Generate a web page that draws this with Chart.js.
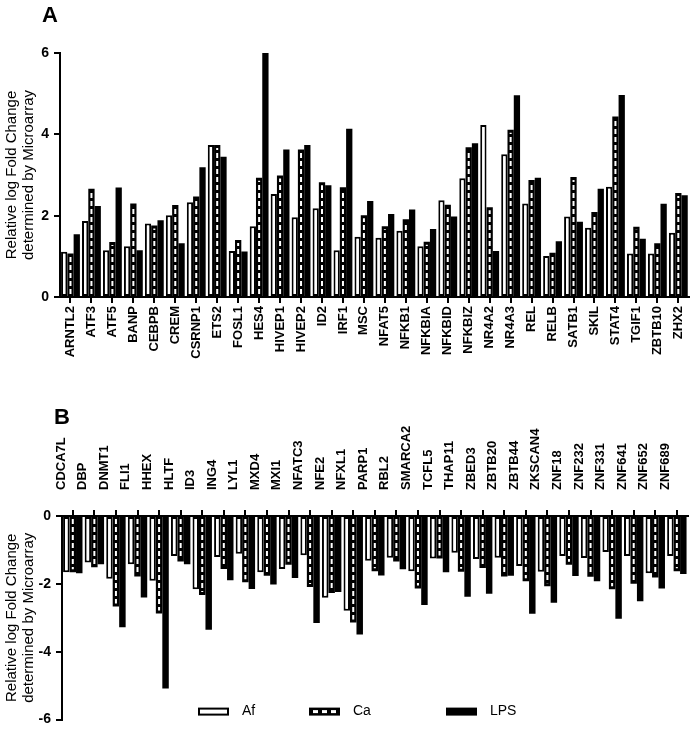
<!DOCTYPE html>
<html>
<head>
<meta charset="utf-8">
<script src="https://cdn.jsdelivr.net/npm/chart.js@4.4.0/dist/chart.umd.min.js"></script>
<style>
  body { margin:0; background:#fff; }
  #wrap { position:relative; width:697px; height:733px; }
  canvas { position:absolute; left:0; }
  .panel { position:absolute; font:bold 22px "Liberation Sans", Arial, sans-serif; color:#000; }
</style>
</head>
<body>
<div id="wrap">
  <canvas id="chartA" width="697" height="380" style="top:0"></canvas>
  <canvas id="chartB" width="697" height="353" style="top:380px"></canvas>
  <div class="panel" style="left:42px;top:2px">A</div>
  <div class="panel" style="left:54px;top:404px">B</div>
</div>
<script>
// panel A: up-regulated genes
const genesA = ['ARNTL2','ATF3','ATF5','BANP','CEBPB','CREM','CSRNP1','ETS2','FOSL1','HES4',
  'HIVEP1','HIVEP2','ID2','IRF1','MSC','NFAT5','NFKB1','NFKBIA','NFKBID','NFKBIZ',
  'NR4A2','NR4A3','REL','RELB','SATB1','SKIL','STAT4','TGIF1','ZBTB10','ZHX2'];
const afA  = [1.11,1.87,1.15,1.25,1.81,2.01,2.33,3.74,1.13,1.74,2.53,1.96,2.18,1.15,1.48,
  1.46,1.63,1.25,2.38,2.92,4.23,3.51,2.30,1.01,1.98,1.70,2.71,1.07,1.07,1.58];
const caA  = [1.07,2.66,1.35,2.30,1.76,2.26,2.47,3.74,1.40,2.93,2.99,3.63,2.82,2.70,2.01,
  1.74,1.91,1.36,2.27,3.68,2.21,4.11,2.88,1.09,2.95,2.09,4.44,1.73,1.32,2.56];
const lpsA = [1.54,2.24,2.69,1.15,1.89,1.32,3.19,3.45,1.12,6.00,3.63,3.74,2.75,4.14,2.36,
  2.04,2.15,1.67,1.98,3.78,1.13,4.96,2.93,1.37,1.85,2.66,4.97,1.43,2.29,2.50];
const ticksA = [0,2,4,6];

// panel B: down-regulated genes
const genesB = ['CDCA7L','DBP','DNMT1','FLI1','HHEX','HLTF','ID3','ING4','LYL1','MXD4',
  'MXI1','NFATC3','NFE2','NFXL1','PARP1','RBL2','SMARCA2','TCFL5','THAP11','ZBED3',
  'ZBTB20','ZBTB44','ZKSCAN4','ZNF18','ZNF232','ZNF331','ZNF641','ZNF652','ZNF689'];
const afB  = [-1.66,-1.37,-1.85,-1.42,-1.91,-1.18,-2.16,-1.21,-1.11,-1.66,-1.56,-1.16,-2.41,
  -2.79,-1.32,-1.23,-1.63,-1.25,-1.08,-1.27,-1.23,-1.47,-1.64,-1.18,-1.24,-1.06,-1.18,-1.69,-1.18];
const caB  = [-1.66,-1.51,-2.67,-1.78,-2.87,-1.34,-2.33,-1.56,-1.95,-1.76,-1.44,-2.09,-2.27,
  -3.14,-1.63,-1.34,-2.14,-1.25,-1.64,-1.53,-1.78,-1.92,-2.07,-1.44,-1.79,-2.16,-2.00,-1.81,-1.63];
const lpsB = [-1.69,-1.42,-3.28,-2.40,-5.08,-1.42,-3.35,-1.89,-2.15,-2.02,-1.83,-3.15,-2.24,
  -3.49,-1.75,-1.57,-2.62,-1.66,-2.38,-2.29,-1.76,-2.88,-2.56,-1.77,-1.92,-3.03,-2.51,-2.14,-1.71];
const ticksB = [0,-2,-4,-6];

const seriesNames = ['Af','Ca','LPS'];
const FONT = '"Liberation Sans", Arial, sans-serif';
const yTitle = ['Relative log Fold Change','determined by Microarray'];

// white dashed line down the middle of the Ca bars
const dashPlugin = {
  id: 'caDash',
  afterDatasetsDraw(chart){
    const c = chart.ctx;
    const meta = chart.getDatasetMeta(1);
    c.save();
    c.strokeStyle = '#fff';
    c.lineWidth = 2;
    c.setLineDash([5,3]);
    meta.data.forEach(el => {
      const dir = el.y < el.base ? -1 : 1;
      c.beginPath();
      c.moveTo(el.x, el.base + dir*2);
      c.lineTo(el.x, el.y - dir*3);
      c.stroke();
    });
    c.restore();
  }
};

// legend at the bottom of panel B
const legendPlugin = {
  id: 'bottomLegend',
  afterDraw(chart){
    const c = chart.ctx;
    const yc = chart.chartArea.bottom - 8;
    const boxes = [198, 309, 446];
    c.save();
    c.font = '14px ' + FONT;
    c.textBaseline = 'middle';
    c.fillStyle = '#000';
    boxes.forEach((x, i) => {
      if (i === 0) {
        c.fillRect(x, yc-4, 31, 8);
        c.fillStyle = '#fff';
        c.fillRect(x+2, yc-2, 27, 4);
        c.fillStyle = '#000';
      } else if (i === 1) {
        c.fillRect(x, yc-4, 31, 8);
        c.fillStyle = '#fff';
        [4, 13, 22].forEach(dx => c.fillRect(x+dx, yc-1.5, 5, 3));
        c.fillStyle = '#000';
      } else {
        c.fillRect(x, yc-4, 31, 8);
      }
      c.fillText(seriesNames[i], x + 44, yc);
    });
    c.restore();
  }
};

function makeDatasets(af, ca, lps){
  return [
    { label: seriesNames[0], data: af, backgroundColor: '#fff', borderColor: '#000', borderWidth: 2, borderSkipped: false },
    { label: seriesNames[1], data: ca, backgroundColor: '#000', borderColor: '#000', borderWidth: 0 },
    { label: seriesNames[2], data: lps, backgroundColor: '#000', borderColor: '#000', borderWidth: 0 }
  ];
}

function axisOpts(){
  return {
    grid: { display: true, drawOnChartArea: false, drawTicks: true, tickLength: 6, color: '#000', lineWidth: 2, offset: false },
    border: { display: true, color: '#000', width: 2 }
  };
}

new Chart(document.getElementById('chartA'), {
  type: 'bar',
  data: { labels: genesA, datasets: makeDatasets(afA, caA, lpsA) },
  options: {
    responsive: false,
    animation: false,
    layout: { padding: { top: 53, right: 5, left: 0, bottom: 0 } },
    plugins: { legend: { display: false }, tooltip: { enabled: false } },
    datasets: { bar: { categoryPercentage: 0.9, barPercentage: 1.0 } },
    scales: {
      x: Object.assign(axisOpts(), {
        afterFit: s => { s.height = 83; },
        ticks: { minRotation: 90, maxRotation: 90, autoSkip: false, padding: 3, color: '#000',
                 font: { family: FONT, size: 13, weight: 'bold' } }
      }),
      y: Object.assign(axisOpts(), {
        min: 0, max: 6,
        afterFit: s => { s.width = 60; },
        afterBuildTicks: s => { s.ticks = ticksA.map(v => ({ value: v })); },
        ticks: { padding: 5, color: '#000', font: { family: FONT, size: 14, weight: 'bold' } },
        title: { display: true, text: yTitle, color: '#000', padding: { top: 3, bottom: 0 },
                 font: { family: FONT, size: 15, lineHeight: 1.15 } }
      })
    }
  },
  plugins: [dashPlugin]
});

new Chart(document.getElementById('chartB'), {
  type: 'bar',
  data: { labels: genesB, datasets: makeDatasets(afB, caB, lpsB) },
  options: {
    responsive: false,
    animation: false,
    layout: { padding: { top: 0, right: 9, left: 0, bottom: 10 } },
    plugins: { legend: { display: false }, tooltip: { enabled: false } },
    datasets: { bar: { categoryPercentage: 0.9, barPercentage: 1.0 } },
    scales: {
      x: Object.assign(axisOpts(), {
        position: 'top',
        afterFit: s => { s.height = 136; },
        ticks: { minRotation: 90, maxRotation: 90, autoSkip: false, padding: 20, labelOffset: 4, color: '#000',
                 font: { family: FONT, size: 13, weight: 'bold' } }
      }),
      y: Object.assign(axisOpts(), {
        min: -6, max: 0,
        afterFit: s => { s.width = 62; },
        afterBuildTicks: s => { s.ticks = ticksB.map(v => ({ value: v })); },
        ticks: { padding: 5, color: '#000', font: { family: FONT, size: 14, weight: 'bold' } },
        title: { display: true, text: yTitle, color: '#000', padding: { top: 3, bottom: 0 },
                 font: { family: FONT, size: 15, lineHeight: 1.15 } }
      })
    }
  },
  plugins: [dashPlugin, legendPlugin]
});
</script>
</body>
</html>
